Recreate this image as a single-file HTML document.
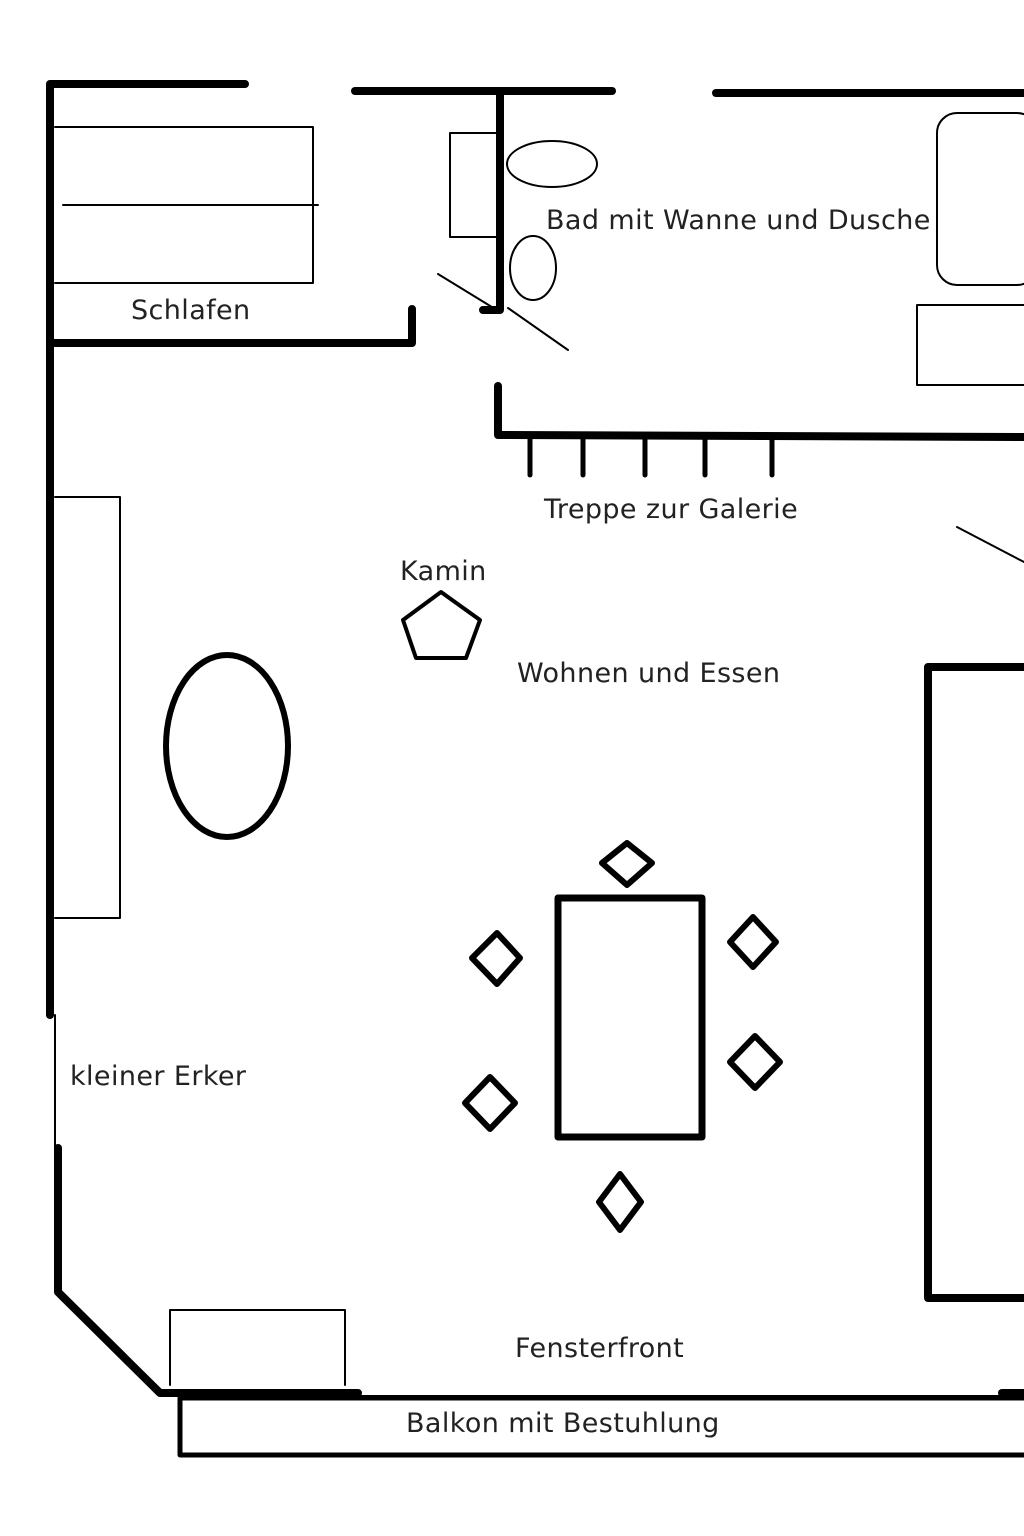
<!DOCTYPE html>
<html><head><meta charset="utf-8"><style>
html,body{margin:0;padding:0;background:#fff;}
svg{display:block;}
text{font-family:"DejaVu Sans","Liberation Sans",sans-serif;font-size:27px;fill:#222;letter-spacing:0.4px;}
</style></head><body>
<svg width="1024" height="1536" viewBox="0 0 1024 1536" xmlns="http://www.w3.org/2000/svg">
<g stroke="#000" fill="none" stroke-linecap="round" stroke-linejoin="round">
<g stroke-width="8">
<polyline points="245,84 50,84 50,1015"/>
<line x1="355" y1="91" x2="612" y2="91"/>
<line x1="716" y1="93" x2="1024" y2="93"/>
<polyline points="500,93 500,310 483,310"/>
<polyline points="50,343 412,343 412,309"/>
<polyline points="498,386 498,435 1024,437"/>
<polyline points="58,1148 58,1292 160,1393 358,1393"/>
<line x1="1002" y1="1393" x2="1024" y2="1393"/>
<polyline points="1024,667 928,667 928,1298 1024,1298"/>
<rect x="558" y="898" width="144" height="239" stroke-width="7"/>
<ellipse cx="227" cy="746" rx="61" ry="91" stroke-width="6"/>
</g>
<g stroke-width="5">
<line x1="530" y1="437" x2="530" y2="475"/>
<line x1="583" y1="437" x2="583" y2="475"/>
<line x1="645" y1="437" x2="645" y2="475"/>
<line x1="705" y1="437" x2="705" y2="475"/>
<line x1="772" y1="437" x2="772" y2="475"/>
</g>
<polyline points="1024,1398 180,1398 180,1455 1024,1455" stroke-width="5"/>
<g stroke-width="2">
<polyline points="55,127 313,127 313,283 55,283"/>
<line x1="63" y1="205" x2="318" y2="205"/>
<polyline points="55,497 120,497 120,918 55,918"/>
<polyline points="500,133 450,133 450,237 500,237"/>
<ellipse cx="552" cy="164" rx="45" ry="23"/>
<ellipse cx="533" cy="268" rx="23" ry="32"/>
<line x1="438" y1="274" x2="500" y2="312"/>
<line x1="508" y1="308" x2="568" y2="350"/>
<rect x="937" y="113" width="100" height="172" rx="20"/>
<rect x="917" y="305" width="120" height="80"/>
<line x1="957" y1="527" x2="1024" y2="562"/>
<polyline points="170,1385 170,1310 345,1310 345,1385"/>
<line x1="55" y1="1015" x2="55" y2="1148"/>
<line x1="358" y1="1396" x2="1002" y2="1396"/>
</g>
<polygon points="441,592 480,620 466,658 416,658 403,620" stroke-width="4"/>
<g stroke-width="6">
<polygon points="627,843 652,863 627,885 602,863"/>
<polygon points="497,933 520,958 497,984 472,958"/>
<polygon points="753,917 776,942 753,967 730,942"/>
<polygon points="755,1036 780,1062 755,1088 730,1062"/>
<polygon points="490,1077 515,1103 490,1129 465,1103"/>
<polygon points="620,1174 641,1202 620,1230 599,1202"/>
</g>
</g>
<text x="131" y="319">Schlafen</text>
<text x="546" y="229">Bad mit Wanne und Dusche</text>
<text x="544" y="518">Treppe zur Galerie</text>
<text x="400" y="580">Kamin</text>
<text x="517" y="682">Wohnen und Essen</text>
<text x="70" y="1085">kleiner Erker</text>
<text x="515" y="1357">Fensterfront</text>
<text x="406" y="1432">Balkon mit Bestuhlung</text>
</svg>
</body></html>
